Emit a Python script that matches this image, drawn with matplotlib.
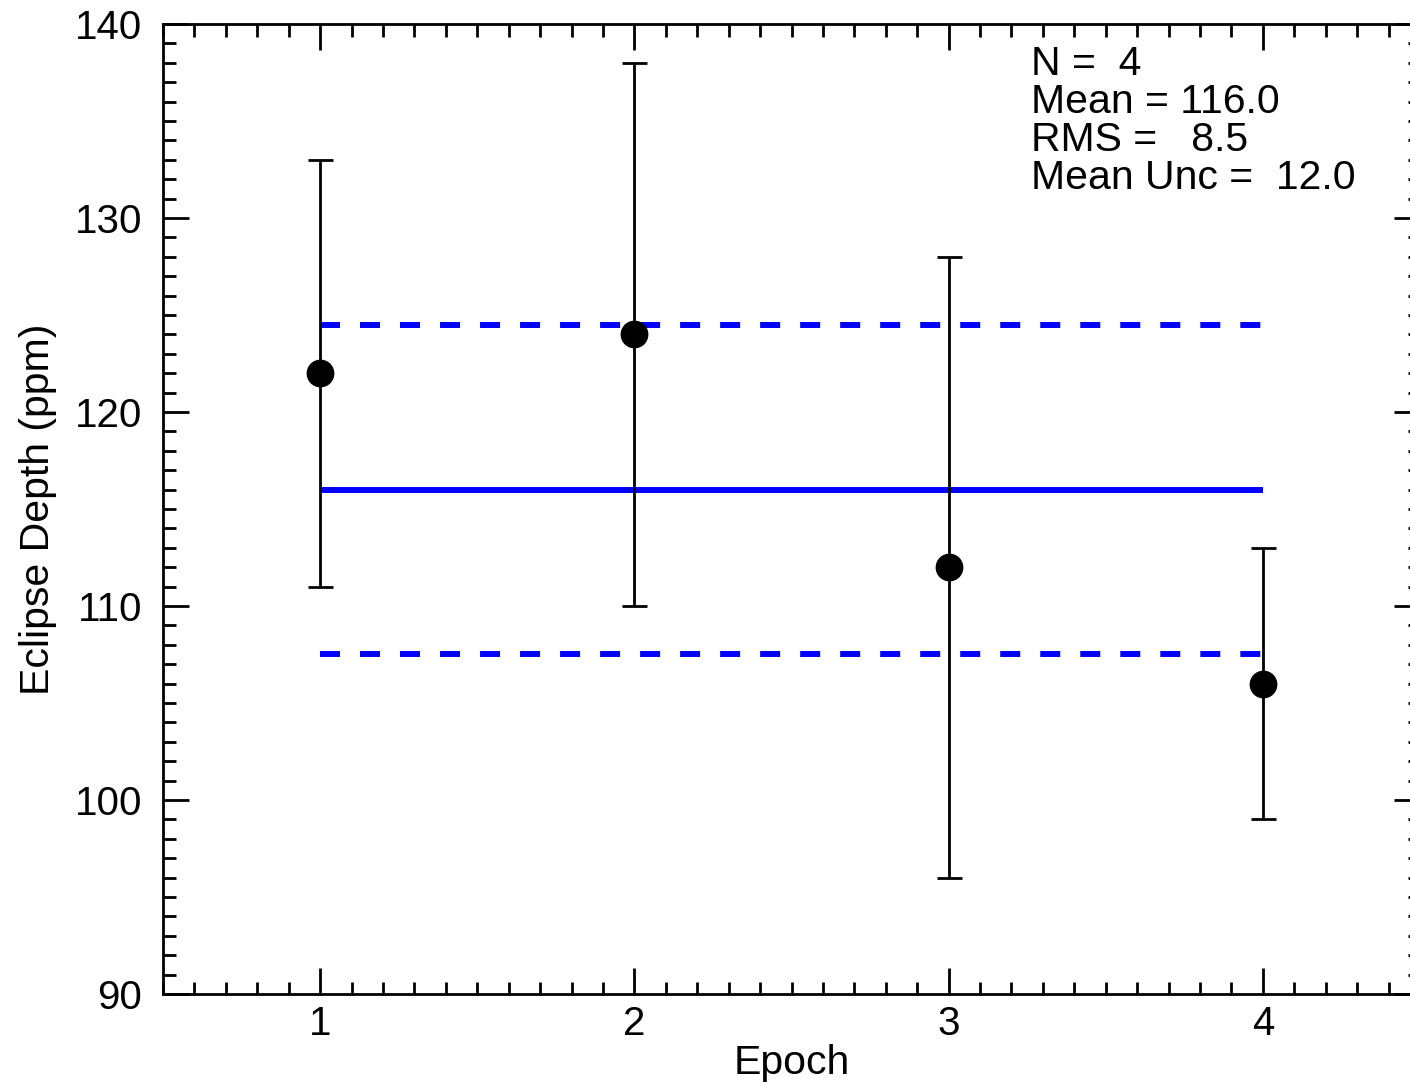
import numpy as np
import matplotlib
matplotlib.use("Agg")
import matplotlib.pyplot as plt
from matplotlib.ticker import MultipleLocator

plt.rcParams['font.family'] = ['Liberation Sans', 'DejaVu Sans']

# eclipse depth per epoch (ppm)
epochs = [1, 2, 3, 4]
depths = [122, 124, 112, 106]
errors = [11, 14, 16, 7]

n = len(depths)
mean = np.mean(depths)
rms = np.std(depths, ddof=1)
mean_unc = np.mean(errors)

fig = plt.figure(figsize=(14.1, 10.85), dpi=100)
ax = fig.add_axes([0.1156, 0.0839, 0.8915, 0.894])

ax.errorbar(epochs, depths, yerr=errors, fmt='o', color='black', ms=19,
            elinewidth=2, capsize=9, capthick=2, zorder=3)

xline = [epochs[0], epochs[-1]]
ax.plot(xline, [mean, mean], color='blue', lw=4.3, solid_capstyle='butt')
ax.plot(xline, [mean + rms, mean + rms], color='blue', lw=4.3, ls=(0, (3.35, 3.35)))
ax.plot(xline, [mean - rms, mean - rms], color='blue', lw=4.3, ls=(0, (3.35, 3.35)))

ax.set_xlim(0.5, 4.5)
ax.set_ylim(90, 140)
ax.xaxis.set_major_locator(MultipleLocator(1))
ax.xaxis.set_minor_locator(MultipleLocator(0.1))
ax.yaxis.set_major_locator(MultipleLocator(10))
ax.yaxis.set_minor_locator(MultipleLocator(1))

ax.tick_params(which='both', direction='in', top=True, right=True, width=2, labelsize=29)
ax.tick_params(which='major', length=18.5)
ax.tick_params(which='minor', length=9)
ax.tick_params(axis='x', pad=8)
ax.tick_params(axis='y', pad=15)
for s in ax.spines.values():
    s.set_linewidth(2)

ax.set_xlabel("Epoch", fontsize=29.5, labelpad=1)
ax.set_ylabel("Eclipse Depth (ppm)", fontsize=29.5, labelpad=13)

lines = [
    f"N =  {n}",
    f"Mean = {mean:.1f}",
    f"RMS =   {rms:.1f}",
    f"Mean Unc =  {mean_unc:.1f}",
]
ybase = [137.37, 135.41, 133.45, 131.5]
for txt, yb in zip(lines, ybase):
    ax.text(3.263, yb, txt, fontsize=29.5, va='baseline', ha='left')

fig.savefig("out.png", dpi=100)
